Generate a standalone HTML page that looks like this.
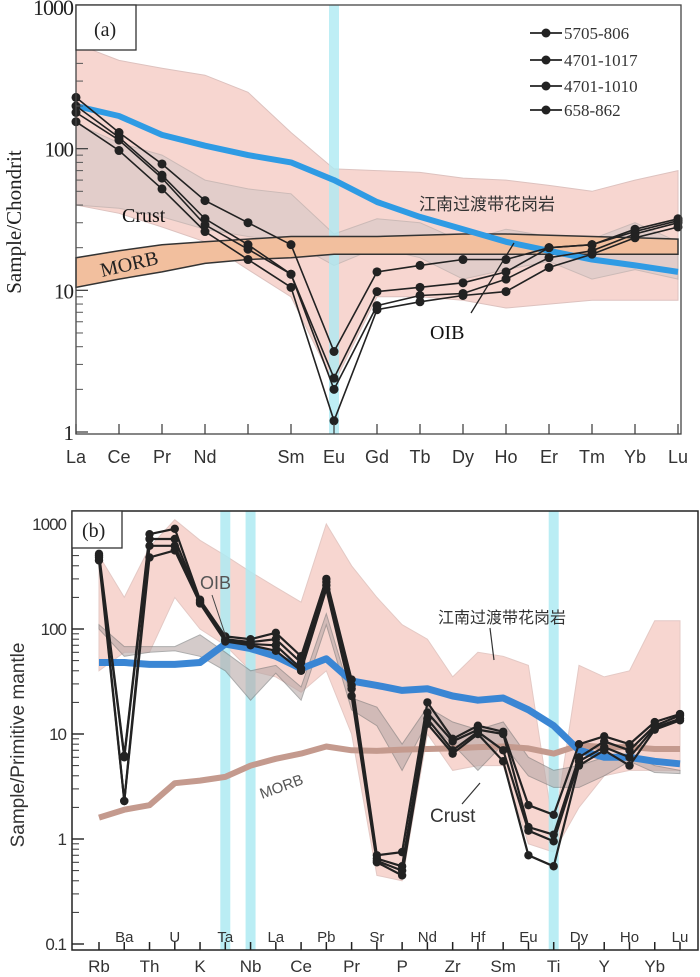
<!DOCTYPE html>
<html><head><meta charset="utf-8">
<style>
body{margin:0;background:#fff;}
svg{display:block;}
.serif{font-family:"Liberation Serif","Noto Serif CJK SC",serif;}
.sans{font-family:"Liberation Sans","Noto Sans CJK SC",sans-serif;}
</style></head>
<body>
<svg id="chart" width="700" height="977" viewBox="0 0 700 977" xmlns="http://www.w3.org/2000/svg">
<g id="pa"></g>
<g id="pb"></g>
</svg>
<script>
// ---------- Panel (a) data ----------
const aCats = ["La","Ce","Pr","Nd","","Sm","Eu","Gd","Tb","Dy","Ho","Er","Tm","Yb","Lu"];
const aS1 = [230,130,78,43,30,21,3.7,13.5,15,16.5,16.5,20,21,27,32];
const aS2 = [200,120,65,32,21,13,2.4,9.8,10.5,11.3,13.5,20,21,26,31];
const aS3 = [180,115,62,29,19.5,13,2.0,7.8,9.2,9.5,12,17,19,25,30];
const aS4 = [155,97,52,26,16.5,10.5,1.2,7.3,8.3,9.2,9.8,14.5,18,23.5,28];
const aBlue = [200,170,125,105,90,80,60,42,33,27,22,19,16.5,15,13.5];
const aPinkHi = [550,420,370,330,250,130,72,70,68,62,60,55,50,60,70];
const aPinkLo = [40,35,28,22,14,9,2.2,9,9,8.5,7.5,8,8.5,8.5,8.5];
const aCrustHi = [150,110,90,60,52,48,25,32,30,22,27,24,23,30,22];
const aCrustLo = [40,38,33,27,24,22,15,20,17,12,14,16,12,14,12];
const aMorbHi = [17,19,21,22,23,24,24,24,24.5,25,25,24.5,24,23.5,23];
const aMorbLo = [10.5,12,13.5,15.5,16.5,17,18,18,18,18,18,18,18,18,18];
const aSeriesNames = ["5705-806","4701-1017","4701-1010","658-862"];
const aYTicks = [1,10,100,1000];

// ---------- Panel (b) data ----------
const bCats = ["Rb","Ba","Th","U","K","Ta","Nb","La","Ce","Pb","Pr","Sr","P","Nd","Zr","Hf","Sm","Eu","Ti","Dy","Y","Ho","Yb","Lu"];
const bS1 = [520,6.2,800,900,190,85,80,92,55,300,33,0.7,0.75,20,9,12,10.5,2.1,1.7,8,9.5,8,13,15.5];
const bS2 = [480,6,720,720,185,80,75,80,48,280,29,0.65,0.55,16,8.5,11,10,1.3,1.1,6,8.5,7,12,15];
const bS3 = [450,2.3,620,620,180,78,72,70,42,260,27,0.62,0.5,14,7,10.5,7,1.2,0.95,5.5,7.5,6,11.5,14];
const bS4 = [500,2.3,480,560,175,76,70,62,40,240,23,0.6,0.45,12.5,6.5,10,5.5,0.7,0.55,5,7,5,11,13.5];
const bBlue = [48,48,46,46,48,72,65,55,42,52,32,29,26,27,23,21,22,17,12,7,6,6,5.5,5.2];
const bMorb = [1.6,1.9,2.1,3.4,3.6,3.9,5,5.8,6.5,7.6,7,6.9,7.1,7.2,7.3,7.5,7.6,7.3,6.5,7.8,7.5,7.5,7.2,7.2];
const bPinkHi = [500,200,600,1100,700,500,350,250,180,1000,400,200,110,80,35,60,55,45,1.2,45,35,40,120,120];
const bPinkLo = [40,60,60,200,100,70,40,35,25,40,10,0.45,0.4,10,4.5,5,5,0.9,0.75,2,4,4.5,4.5,4.5];
const bGreyHi = [110,68,68,68,88,60,40,45,28,140,22,18,8,18,13,11,13,6,4.5,5,6,6.5,5,4.5];
const bGreyLo = [100,55,60,62,55,40,21,38,21,110,17,12,4.5,13,8,4.5,8,4,3.1,3.1,4,5.5,4.3,4.2];
const bYTicks = [0.1,1,10,100,1000];

const NS="http://www.w3.org/2000/svg";
function mk(parent,tag,attrs,text){const e=document.createElementNS(NS,tag);for(const k in attrs)e.setAttribute(k,attrs[k]);if(text!==undefined)e.textContent=text;parent.appendChild(e);return e;}

const aL=76,aR=681,aT=5,aB=434;
function ax(i){return aL+i*43.0;}
function ay(v){return 432-(Math.log10(v))*(432-7)/3;}
const bL=72,bR=698,bT=511,bB=950;
function bx(i){return 99+i*(680-99)/(bCats.length-1);}
function by(v){return 944-(Math.log10(v)+1)*105;}

function band(g,xf,yf,hi,lo,attrs){let d="";hi.forEach((v,i)=>{d+=(i?"L":"M")+xf(i).toFixed(1)+","+yf(v).toFixed(1);});for(let i=lo.length-1;i>=0;i--)d+="L"+xf(i).toFixed(1)+","+yf(lo[i]).toFixed(1);d+="Z";return mk(g,"path",Object.assign({d:d},attrs));}
function line(g,xf,yf,vals,attrs){let d="";vals.forEach((v,i)=>{if(v===null)return;d+=(d?"L":"M")+xf(i).toFixed(1)+","+yf(v).toFixed(1);});return mk(g,"path",Object.assign({d:d,fill:"none"},attrs));}

// ===== Panel A =====
const pa=document.getElementById('pa');
let e;
e=band(pa,ax,ay,aPinkHi,aPinkLo,{fill:"#f6cfc8",stroke:"#d8b8b4","stroke-width":1,opacity:0.85});


e=band(pa,ax,ay,aCrustHi,aCrustLo,{fill:"#c9c4c4",stroke:"#999","stroke-width":1,opacity:0.45});


e=mk(pa,"rect",{x:ax(6)-5,y:aT,width:10,height:aB-aT,fill:"#aeeaf2",opacity:0.8});


e=band(pa,ax,ay,aMorbHi,aMorbLo,{fill:"#f2bf9e",stroke:"#333","stroke-width":1.5});


e=line(pa,ax,ay,aBlue,{stroke:"#2f9be4","stroke-width":6,"stroke-linejoin":"round"});


[aS1,aS2,aS3,aS4].forEach((s,k)=>{
  const g=mk(pa,"g",{});
  
  
  line(g,ax,ay,s,{stroke:"#222","stroke-width":1.6});
  s.forEach((v,i)=>{const c=mk(g,"circle",{cx:ax(i),cy:ay(v),r:4.5,fill:"#222"});
    
    });
});
mk(pa,"rect",{x:aL,y:aT,width:aR-aL,height:aB-aT,fill:"none",stroke:"#444","stroke-width":1.3});
aCats.forEach((c,i)=>{
  mk(pa,"line",{x1:ax(i),y1:aB,x2:ax(i),y2:aB-10,stroke:"#444","stroke-width":1.3});
  if(c){const t=mk(pa,"text",{x:ax(i),y:463,"text-anchor":"middle","font-size":18,fill:"#333",class:"sans"},c);
    
    }
});
for(let d=0;d<3;d++){for(let m=2;m<10;m++){const y=ay(m*Math.pow(10,d));mk(pa,"line",{x1:aL,y1:y,x2:aL+7,y2:y,stroke:"#555","stroke-width":1});}}
aYTicks.forEach(v=>{const y=ay(v);mk(pa,"line",{x1:aL,y1:y,x2:aL+12,y2:y,stroke:"#444","stroke-width":1.3});
  const t=mk(pa,"text",{x:aL-3,y:y+8,"text-anchor":"end","font-size":v===1000?22:21,fill:"#222",class:"serif","letter-spacing":"-1"},String(v));
  
  });
e=mk(pa,"text",{x:0,y:0,transform:"translate(21,222) rotate(-90)","text-anchor":"middle","font-size":21,fill:"#222",class:"serif"},"Sample/Chondrit");


e=mk(pa,"rect",{x:aL,y:aT,width:60,height:45,fill:"#fff",stroke:"#333","stroke-width":1.3});
e=mk(pa,"text",{x:94,y:36,"font-size":20,fill:"#222",class:"serif"},"(a)");


aSeriesNames.forEach((n,k)=>{
  const y=[33,60,86,110][k];
  const g=mk(pa,"g",{});
  
  
  mk(g,"line",{x1:530,y1:y,x2:562,y2:y,stroke:"#222","stroke-width":1.8});
  mk(g,"circle",{cx:546,cy:y,r:4.5,fill:"#222"});
  mk(g,"text",{x:564,y:y+6,"font-size":17,fill:"#333",class:"serif"},n);
});
e=mk(pa,"text",{x:122,y:222,"font-size":20,fill:"#111",class:"serif"},"Crust");


e=mk(pa,"text",{x:0,y:0,transform:"translate(102,277) rotate(-13)","font-size":20,fill:"#222",class:"serif"},"MORB");


e=mk(pa,"text",{x:419,y:210,"font-size":17,fill:"#333",class:"sans"},"江南过渡带花岗岩");


e=mk(pa,"text",{x:430,y:339,"font-size":20,fill:"#111",class:"serif"},"OIB");


mk(pa,"line",{x1:471,y1:313,x2:514,y2:243,stroke:"#222","stroke-width":1.3});

// ===== Panel B =====
const pb=document.getElementById('pb');
e=band(pb,bx,by,bPinkHi,bPinkLo,{fill:"#f6cfc8",stroke:"#e0c0bb","stroke-width":1,opacity:0.85});


[5,6,18].forEach(i=>{e=mk(pb,"rect",{x:bx(i)-5,y:bT,width:10,height:bB-bT,fill:"#aeeaf2",opacity:0.85});
  
  });
e=band(pb,bx,by,bGreyHi,bGreyLo,{fill:"#b8a9a8",stroke:"#777","stroke-width":1,opacity:0.6});


e=line(pb,bx,by,bMorb,{stroke:"#c49a8e","stroke-width":6,"stroke-linejoin":"round"});


e=line(pb,bx,by,bBlue,{stroke:"#3a86d4","stroke-width":7,"stroke-linejoin":"round"});


[bS1,bS2,bS3,bS4].forEach((s,k)=>{
  const g=mk(pb,"g",{});
  
  
  line(g,bx,by,s,{stroke:"#222","stroke-width":2.2});
  s.forEach((v,i)=>{const c=mk(g,"circle",{cx:bx(i),cy:by(v),r:4.2,fill:"#222"});
    
    });
});
mk(pb,"rect",{x:bL,y:bT,width:bR-bL,height:bB-bT,fill:"none",stroke:"#222","stroke-width":1.5});
bCats.forEach((c,i)=>{
  mk(pb,"line",{x1:bx(i),y1:bB,x2:bx(i),y2:bB-8,stroke:"#222","stroke-width":1.5});
  const odd=i%2===0;
  const t=mk(pb,"text",{x:bx(i),y:odd?972:942,"text-anchor":"middle","font-size":odd?17:15,fill:"#333",class:"sans"},c);
  
  
});
for(let d=-1;d<3;d++){for(let m=2;m<10;m++){const y=by(m*Math.pow(10,d));mk(pb,"line",{x1:bL,y1:y,x2:bL+7,y2:y,stroke:"#333","stroke-width":1});}}
bYTicks.forEach(v=>{const y=by(v);mk(pb,"line",{x1:bL,y1:y,x2:bL+12,y2:y,stroke:"#222","stroke-width":1.4});
  const t=mk(pb,"text",{x:bL-6,y:y+6,"text-anchor":"end","font-size":17,fill:"#333",class:"sans","letter-spacing":"-1"},String(v));
  
  });
e=mk(pb,"text",{x:0,y:0,transform:"translate(24,745) rotate(-90)","text-anchor":"middle","font-size":19,fill:"#333",class:"sans"},"Sample/Primitive mantle");


mk(pb,"rect",{x:bL,y:bT,width:50,height:37,fill:"#fff",stroke:"#333","stroke-width":1.3});
e=mk(pb,"text",{x:82,y:537,"font-size":20,fill:"#222",class:"serif"},"(b)");


e=mk(pb,"text",{x:200,y:589,"font-size":18,fill:"#555",class:"sans"},"OIB");


mk(pb,"line",{x1:212,y1:595,x2:226,y2:637,stroke:"#444","stroke-width":1});
e=mk(pb,"text",{x:438,y:623,"font-size":16,fill:"#333",class:"sans"},"江南过渡带花岗岩");


mk(pb,"line",{x1:490,y1:628,x2:494,y2:660,stroke:"#333","stroke-width":1.2});
e=mk(pb,"text",{x:0,y:0,transform:"translate(262,799) rotate(-20)","font-size":15,fill:"#555",class:"sans"},"MORB");


e=mk(pb,"text",{x:430,y:822,"font-size":19,fill:"#333",class:"sans"},"Crust");


mk(pb,"line",{x1:462,y1:804,x2:480,y2:783,stroke:"#333","stroke-width":1.2});
</script>
</body></html>
